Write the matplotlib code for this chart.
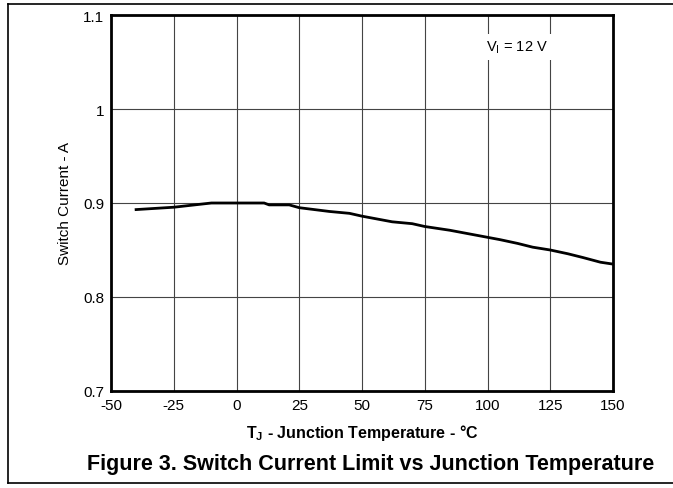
import matplotlib
matplotlib.use("Agg")
import matplotlib.pyplot as plt
from matplotlib.lines import Line2D

plt.rcParams['font.family'] = ['Liberation Sans', 'DejaVu Sans']
plt.rcParams['axes.unicode_minus'] = False

temp_c = [-40, -25, -10, 0, 11, 13, 21, 25, 37, 45, 50, 62, 70, 75, 85, 95,
          105, 112, 118, 125, 132, 138, 145, 150]
current_a = [0.893, 0.8955, 0.900, 0.900, 0.900, 0.898, 0.898, 0.895, 0.891,
             0.889, 0.886, 0.880, 0.878, 0.875, 0.871, 0.866, 0.861, 0.857,
             0.853, 0.850, 0.846, 0.842, 0.837, 0.835]
x_ticks = [-50, -25, 0, 25, 50, 75, 100, 125, 150]
y_ticks = [0.7, 0.8, 0.9, 1.0, 1.1]
y_tick_labels = ['0.7', '0.8', '0.9', '1', '1.1']

W, H = 673, 489
fig = plt.figure(figsize=(W / 100, H / 100), dpi=100)
ax = fig.add_axes([111 / W, 1 - 392 / H, (613 - 111) / W, (392 - 16) / H])

ax.plot(temp_c, current_a, color='black', lw=2.0, zorder=3)
ax.set_xlim(-50, 150)
ax.set_ylim(0.7, 1.1)
ax.set_xticks(x_ticks)
ax.set_yticks(y_ticks)
ax.set_yticklabels(y_tick_labels)
ax.tick_params(length=0, labelsize=11, pad=5)
ax.grid(True, color='#444444', lw=0.8, zorder=1)
for s in ax.spines.values():
    s.set_linewidth(2.0)
    s.set_zorder(4)

ax.set_xlabel('T$_\\mathregular{J}$ - Junction Temperature - °C', fontsize=11.5,
              fontweight='bold', labelpad=7)
ax.set_ylabel('Switch Current - A', fontsize=11, labelpad=8)

ax.text(99.5, 1.066, 'V$_\\mathregular{I}$ = 12 V', fontsize=10.5, ha='left',
        va='center', zorder=2,
        bbox=dict(facecolor='white', edgecolor='none', pad=3))

fig.text(371 / W, 1 - 465 / H,
         'Figure 3. Switch Current Limit vs Junction Temperature',
         fontsize=15.5, fontweight='bold', ha='center', va='center')

# figure frame lines
def fl(x0, y0, x1, y1):
    fig.add_artist(Line2D([x0 / W, x1 / W], [1 - y0 / H, 1 - y1 / H],
                          color='black', lw=1.2, transform=fig.transFigure))

fl(8, 5, 673, 5)
fl(8, 5, 8, 484)
fl(8, 484, 673, 484)

fig.savefig('out.png', dpi=100)
